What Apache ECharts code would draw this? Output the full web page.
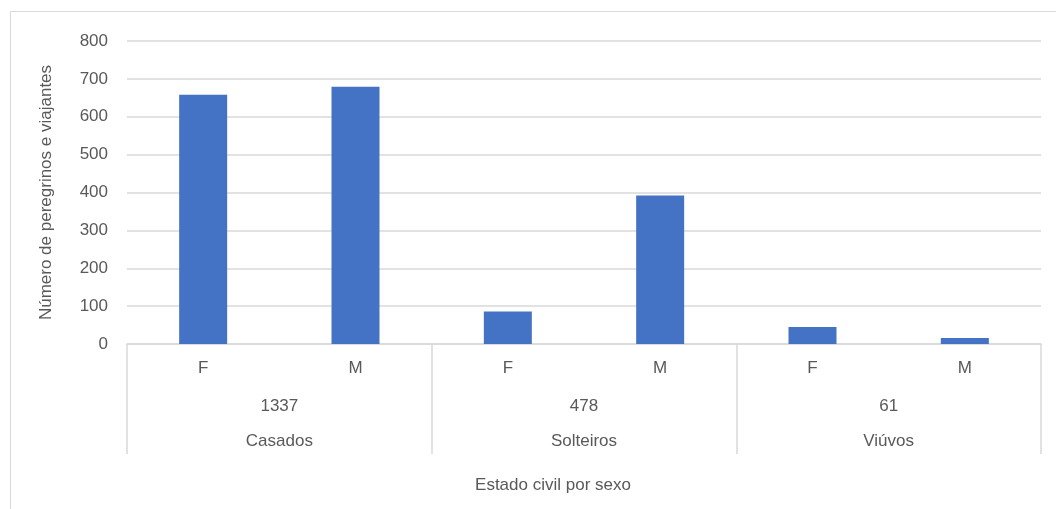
<!DOCTYPE html>
<html>
<head>
<meta charset="utf-8">
<script src="https://cdn.jsdelivr.net/npm/echarts@6/dist/echarts.min.js"></script>
<style>
  html, body { margin: 0; padding: 0; background: #fff; overflow: hidden; }
  #chart { position: absolute; left: 0; top: 0; width: 1056px; height: 509px; }
  #frame { position: absolute; left: 10px; top: 11px; width: 1100px; height: 600px;
           border: 1px solid #d9d9d9; box-sizing: border-box; pointer-events: none; }
</style>
</head>
<body>
<div id="chart"></div>
<div id="frame"></div>
<script>
// Marital status groups and sex sub-categories
const groups = ['Casados', 'Solteiros', 'Viúvos'];
const sexes = ['F', 'M'];
// Pilgrims and travellers per group, by sex
const femaleCounts = [658, 86, 45];
const maleCounts = [679, 392, 16];
// Y axis scale
const yMin = 0, yMax = 800, yStep = 100;

// Flatten into F/M pairs per group
const innerLabels = [];
const barValues = [];
groups.forEach((g, i) => {
  innerLabels.push(sexes[0], sexes[1]);
  barValues.push(femaleCounts[i], maleCounts[i]);
});
const groupTotals = groups.map((g, i) => String(femaleCounts[i] + maleCounts[i]));

const font = 'Liberation Sans, Arial, sans-serif';
const textColor = '#595959';
const lineColor = '#d9d9d9';

const chart = echarts.init(document.getElementById('chart'), null, { renderer: 'canvas' });
chart.setOption({
  animation: false,
  textStyle: { fontFamily: font },
  grid: { left: 127, right: 15, top: 41, bottom: 165 },
  xAxis: [
    {
      type: 'category',
      data: innerLabels,
      position: 'bottom',
      axisLine: { show: true, lineStyle: { color: lineColor, width: 1.5 } },
      axisTick: { show: false },
      axisLabel: { margin: 16, fontSize: 17, color: textColor, fontFamily: font }
    },
    {
      type: 'category',
      data: groupTotals,
      position: 'bottom',
      axisLine: { show: false },
      axisTick: { show: true, length: 110, lineStyle: { color: lineColor, width: 1.5 } },
      axisLabel: { margin: 54, fontSize: 17, color: textColor, fontFamily: font }
    },
    {
      type: 'category',
      data: groups,
      position: 'bottom',
      axisLine: { show: false },
      axisTick: { show: false },
      axisLabel: { margin: 89, fontSize: 17, color: textColor, fontFamily: font },
      name: 'Estado civil por sexo',
      nameLocation: 'middle',
      nameGap: 133,
      // title sits centred on the whole chart area, a little left of the plot centre
      nameTextStyle: { fontSize: 17, color: textColor, fontFamily: font, padding: [0, 62, 0, 0] }
    }
  ],
  yAxis: {
    type: 'value',
    min: yMin,
    max: yMax,
    interval: yStep,
    axisLine: { show: false },
    axisTick: { show: false },
    axisLabel: { margin: 19, fontSize: 17, color: textColor, fontFamily: font },
    splitLine: { lineStyle: { color: lineColor, width: 1.5 } },
    name: 'Número de peregrinos e viajantes',
    nameLocation: 'middle',
    nameRotate: 90,
    nameGap: 72,
    nameTextStyle: { fontSize: 17, color: textColor, fontFamily: font }
  },
  series: [
    {
      type: 'bar',
      xAxisIndex: 0,
      data: barValues,
      barWidth: 48,
      itemStyle: { color: '#4472C4' }
    }
  ]
});
</script>
</body>
</html>
